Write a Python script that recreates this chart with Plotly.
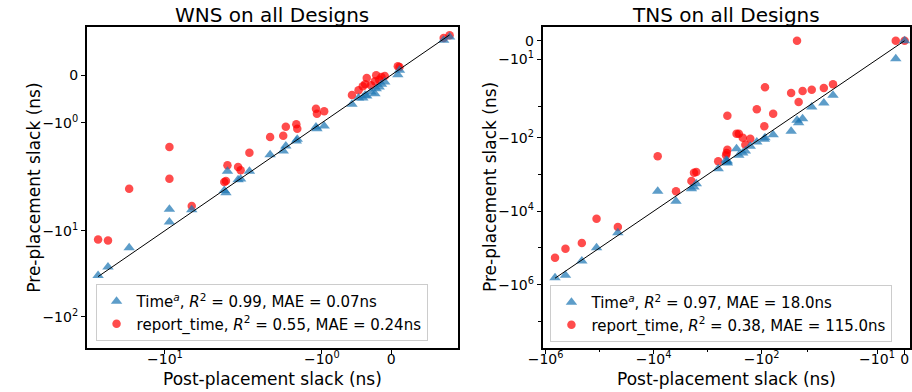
import numpy as np
import plotly.graph_objects as go

# ---------------- WNS (ns) ----------------
wns_post = [-34.2, -28.5, -19.3, -9.2, -9.2, -6.1, -3.35, -3.25, -3.16, -2.60, -2.48, -2.11,
            -1.744, -1.555, -1.518, -1.367, -1.353, -1.084, -1.070, -0.966, -0.566, -0.471,
            -0.410, -0.377, -0.353, -0.292, -0.236, -0.217, -0.174, -0.141, -0.094, 0.094,
            0.118, 0.754, 0.839]
wns_time = [-33.1, -26.5, -15.8, -7.93, -5.65, -5.70, -3.40, -3.61, -2.04, -2.55, -2.51, -2.04,
            -1.667, -1.591, -1.486, -1.381, -1.346, -1.088, -1.123, -1.067, -0.614, -0.481,
            -0.481, -0.426, -0.440, -0.356, -0.391, -0.286, -0.251, -0.195, -0.147, 0.007,
            0.098, 0.726, 0.795]
wns_report = [-12.7, -13.0, -3.25, -2.49, -1.507, -5.17, -2.72, -2.65, -1.891, -1.926, -1.995,
              -1.626, -1.298, -1.270, -1.081, -1.033, -1.123, -0.705, -0.809, -0.760, -0.419,
              -0.321, -0.237, -0.195, -0.063, -0.216, -0.132, -0.007, -0.098, -0.042, -0.021,
              0.181, 0.167, 0.774, 0.830]

# ---------------- TNS (ns) ----------------
tns_post = [-668000, -428000, -213000, -113800, -45900, -8395, -3846, -1995, -1786, -1618, -637,
            -455, -443, -431, -431, -291.5, -264.5, -223.7, -200, -162.4, -122.9, -89.2, -86.7,
            -61.2, -41.1, -38.97, -38.38, -36.95, -33.64, -29.26, -25.94, -3.2, 0]
tns_time = [-645700, -557200, -227000, -98290, -38360, -2867, -5370, -2426, -2185, -1773, -691.6,
            -410, -455.2, -484.6, -427.6, -197.2, -299.6, -258.8, -228.2, -170.3, -129.8, -109.8,
            -98.9, -81.9, -66.4, -42.45, -43.7, -41.57, -35.34, -33.21, -29.12, -9.58, 0]
tns_report = [-184100, -104700, -73350, -15930, -26870, -318.9, -2867, -1499, -888.9, -852.5,
              -436.5, -299.6, -258.8, -210, -39.97, -76.9, -76.9, -98.9, -153.5, -105.3, -36.59,
              -48.6, -24.86, -38.9, -27.88, 0, -32.68, -26.82, -26.1, -25.2, -23.26, 0, 0]

titles = ["WNS on all Designs", "TNS on all Designs"]
x_label = "Post-placement slack (ns)"
y_label = "Pre-placement slack (ns)"
wns_legend = ["Time<sup><i>a</i></sup>, <i>R</i><sup>2</sup> = 0.99, MAE = 0.07ns",
              "report_time, <i>R</i><sup>2</sup> = 0.55, MAE = 0.24ns"]
tns_legend = ["Time<sup><i>a</i></sup>, <i>R</i><sup>2</sup> = 0.97, MAE = 18.0ns",
              "report_time, <i>R</i><sup>2</sup> = 0.38, MAE = 115.0ns"]

wns_xticks = [-10, -1, 0]
wns_xtext = ["\u221210<sup>1</sup>", "\u221210<sup>0</sup>", "0"]
wns_yticks = [0, -1, -10, -100]
wns_ytext = ["0", "\u221210<sup>0</sup>", "\u221210<sup>1</sup>", "\u221210<sup>2</sup>"]
tns_xticks = [-1e6, -1e4, -1e2, -10, 0]
tns_xtext = ["\u221210<sup>6</sup>", "\u221210<sup>4</sup>", "\u221210<sup>2</sup>",
             "\u221210<sup>1</sup>", "0"]
tns_yticks = [0, -10, -1e2, -1e4, -1e6]
tns_ytext = ["0", "\u221210<sup>1</sup>", "\u221210<sup>2</sup>", "\u221210<sup>4</sup>",
             "\u221210<sup>6</sup>"]
tns_minor = [-1e7, -1e5, -1e3, -35]

# symmetric-log scale parameters (linthresh, linscale factor) per panel
WNS_SCALE = (2.0, 1.0 / 0.9)
TNS_SCALE = (45.0, 2.3)


def symlog(v, scale):
    L, a = scale
    v = np.asarray(v, dtype=float)
    av = np.abs(v)
    return np.where(av <= L, v * a / L,
                    np.sign(v) * (a + np.log10(np.maximum(av, L) / L)))


W, H = 912, 392
FONT = "DejaVu Sans"
BLUE = "rgba(31,119,180,0.72)"
RED = "rgba(255,0,0,0.70)"

fig = go.Figure()


def add_panel(post, time, report, scale, xa, ya, legend, names):
    fig.add_trace(go.Scatter(
        x=symlog(post, scale), y=symlog(report, scale), mode="markers",
        name=names[1], legend=legend, legendrank=2, xaxis=xa, yaxis=ya,
        marker=dict(symbol="circle", size=8.5, color=RED, line=dict(width=0)),
        hoverinfo="skip"))
    fig.add_trace(go.Scatter(
        x=symlog(post, scale), y=symlog(time, scale), mode="markers",
        name=names[0], legend=legend, legendrank=1, xaxis=xa, yaxis=ya,
        marker=dict(symbol="triangle-up", size=10, color=BLUE, line=dict(width=0)),
        hoverinfo="skip"))
    lo, hi = min(post), max(post)
    fig.add_trace(go.Scatter(
        x=symlog([lo, hi], scale), y=symlog([lo, hi], scale), mode="lines",
        line=dict(color="black", width=1), showlegend=False, xaxis=xa, yaxis=ya,
        hoverinfo="skip"))


add_panel(wns_post, wns_time, wns_report, WNS_SCALE, "x", "y", "legend", wns_legend)
add_panel(tns_post, tns_time, tns_report, TNS_SCALE, "x2", "y2", "legend2", tns_legend)

ydom = [1 - 348 / H, 1 - 27 / H]
axis_common = dict(showgrid=False, zeroline=False, showline=True, mirror=True,
                   linecolor="black", linewidth=1.5, ticks="outside", ticklen=4,
                   tickcolor="black", tickwidth=1, tickfont=dict(family=FONT, size=14,
                                                                 color="black"),
                   tickmode="array")
minor_common = dict(tickmode="array", ticks="outside", ticklen=2.5, tickcolor="black")

fig.update_layout(
    width=W, height=H, margin=dict(l=0, r=0, t=0, b=0),
    paper_bgcolor="white", plot_bgcolor="white",
    font=dict(family=FONT, color="black"),
    xaxis=dict(domain=[73 / W, 451 / W], range=[-2.435, 0.534], ticklabelstandoff=-7,
               tickvals=symlog(wns_xticks, WNS_SCALE), ticktext=wns_xtext, **axis_common),
    yaxis=dict(domain=ydom, range=[-3.174, 0.558],
               tickvals=symlog(wns_yticks, WNS_SCALE), ticktext=wns_ytext, **axis_common),
    xaxis2=dict(domain=[537 / W, 911 / W], range=[-6.702, 0.1], anchor="y2",
                ticklabelstandoff=-7,
                tickvals=symlog(tns_xticks, TNS_SCALE), ticktext=tns_xtext,
                minor=dict(tickvals=symlog(tns_minor, TNS_SCALE), **minor_common),
                **axis_common),
    yaxis2=dict(domain=ydom, range=[-8.373, 0.373], anchor="x2",
                tickvals=symlog(tns_yticks, TNS_SCALE), ticktext=tns_ytext,
                minor=dict(tickvals=symlog(tns_minor, TNS_SCALE), **minor_common),
                **axis_common),
    legend=dict(x=82 / W, y=1 - 341 / H, xanchor="left", yanchor="bottom",
                bgcolor="rgba(255,255,255,0.8)", bordercolor="#cccccc", borderwidth=1,
                font=dict(family=FONT, size=15, color="black"), traceorder="normal"),
    legend2=dict(x=545 / W, y=1 - 342 / H, xanchor="left", yanchor="bottom",
                 bgcolor="rgba(255,255,255,0.8)", bordercolor="#cccccc", borderwidth=1,
                 font=dict(family=FONT, size=15, color="black"), traceorder="normal"),
    showlegend=True,
)

# titles and axis labels
for cx, t in zip([262 / W, 724 / W], titles):
    fig.add_annotation(text=t, x=cx, y=1 - 15 / H, xref="paper", yref="paper",
                       showarrow=False, font=dict(family=FONT, size=20, color="black"),
                       xanchor="center", yanchor="middle")
    fig.add_annotation(text=x_label, x=cx, y=1 - 379 / H, xref="paper", yref="paper",
                       showarrow=False, font=dict(family=FONT, size=17, color="black"),
                       xanchor="center", yanchor="middle")
for lx in [18.5 / W, 483 / W]:
    fig.add_annotation(text=y_label, x=lx, y=(ydom[0] + ydom[1]) / 2, xref="paper",
                       yref="paper", showarrow=False, textangle=-90,
                       font=dict(family=FONT, size=17, color="black"),
                       xanchor="center", yanchor="middle")

fig.write_html("out.html")
